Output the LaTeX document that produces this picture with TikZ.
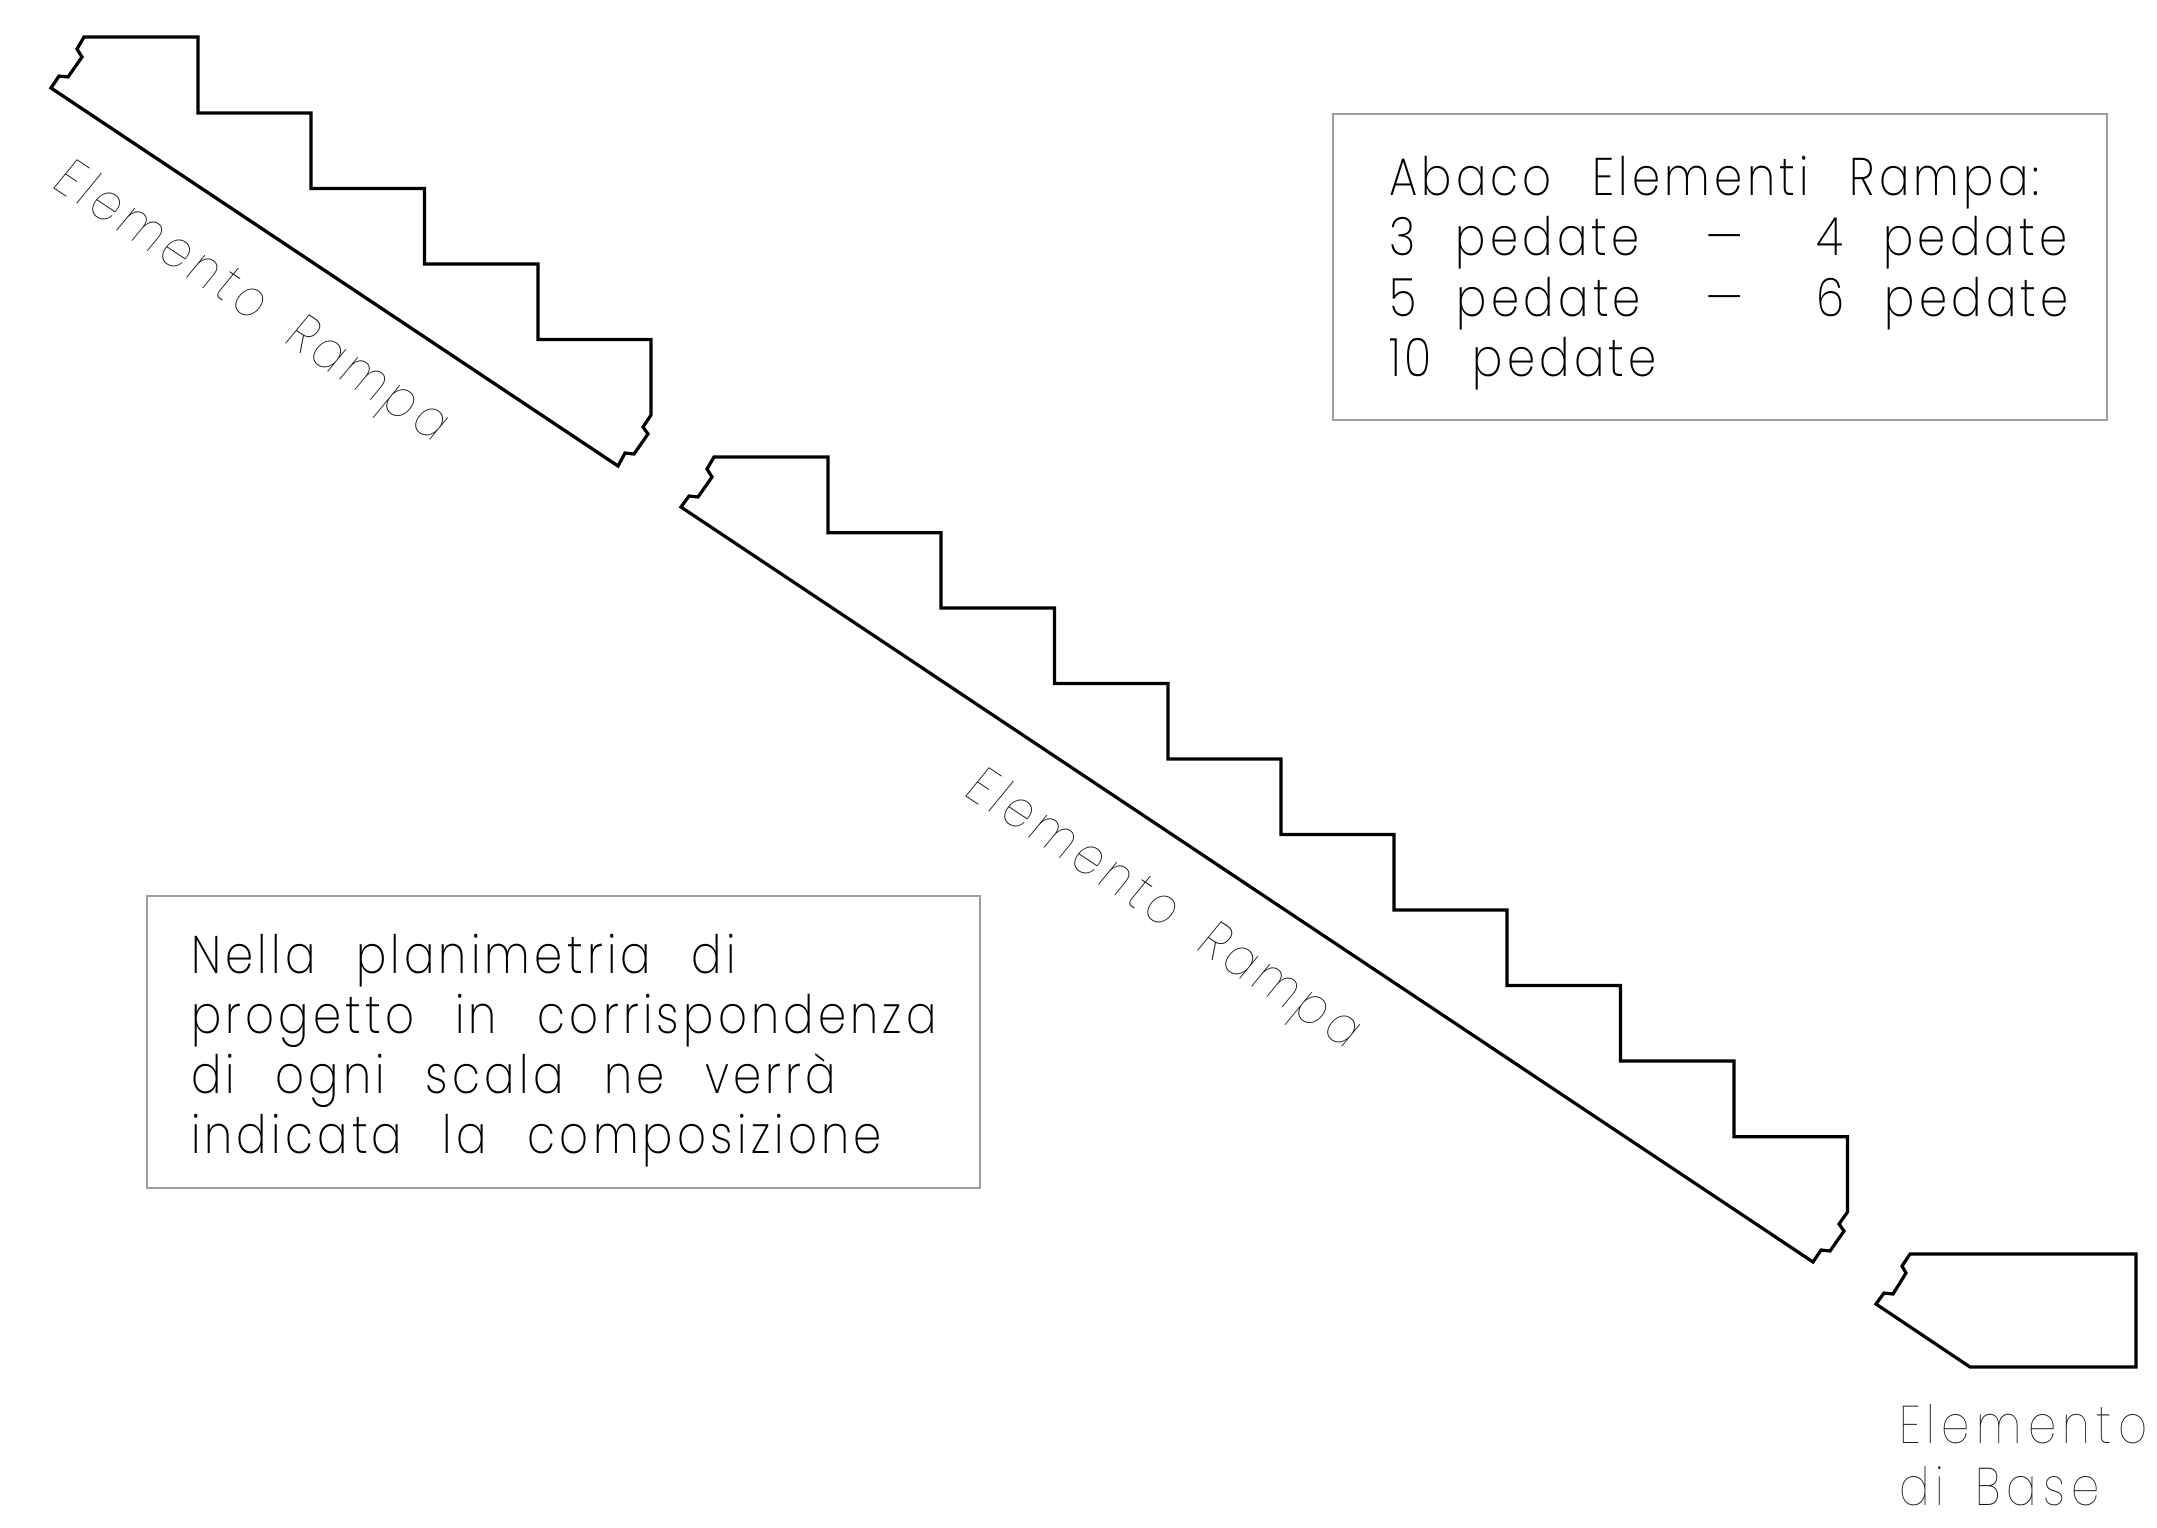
\documentclass[tikz,border=0pt]{standalone}
\usepackage{fontspec}
\setmainfont{Poppins ExtraLight}[LetterSpace=8,FakeStretch=0.85,WordSpace=2.4]
\newfontfamily\lbl{Poppins Thin}[LetterSpace=12,FakeStretch=0.85,WordSpace=1.6]
\newfontfamily\lblr{Poppins Thin}[LetterSpace=10.5,FakeStretch=0.85,WordSpace=1.9,FakeSlant=0.1]
\tikzset{x=1pt,y=-1pt,
 outl/.style={draw=black,line width=3.2pt,line join=miter},
 boxr/.style={draw=black!38,line width=1.1pt},
 txt/.style={anchor=base west,inner sep=0pt,outer sep=0pt,font=\fontsize{53}{60}\selectfont,text=black},
 gtxt/.style={anchor=base west,inner sep=0pt,outer sep=0pt,font=\lbl\fontsize{53}{60}\selectfont,text=black!90},
 rtxt/.style={anchor=base west,inner sep=0pt,outer sep=0pt,rotate=-33.7,font=\lblr\fontsize{53}{60}\selectfont,text=black!90}}
\begin{document}
\begin{tikzpicture}
\useasboundingbox (0,0) rectangle (2157,1527);
\draw[outl] (84,37) -- (198,37) -- (198,113) -- (311,113) -- (311,188.5) -- (424.5,188.5) -- (424.5,264) -- (538,264) -- (538,339.5) -- (651,339.5) -- (651,415) -- (643,427) -- (648,434) -- (634,454) -- (625,453) -- (618,466) -- (51,88) -- (59,76) -- (68,77) -- (82,57) -- (77,49) -- cycle;
\draw[outl] (714,457) -- (828,457) -- (828,532.7) -- (941,532.7) -- (941,608) -- (1054.5,608) -- (1054.5,683.5) -- (1168,683.5) -- (1168,759) -- (1281,759) -- (1281,834.5) -- (1394,834.5) -- (1394,910) -- (1507,910) -- (1507,985.5) -- (1620.5,985.5) -- (1620.5,1061) -- (1734,1061) -- (1734,1136.7) -- (1847.5,1136.7) -- (1847.5,1212) -- (1839,1224) -- (1844,1231) -- (1830,1251) -- (1821,1250) -- (1813,1262) -- (681,507) -- (689,496) -- (698,497) -- (712,477) -- (707,469) -- cycle;
\draw[outl] (1910,1254) -- (2136,1254) -- (2136,1367) -- (1970,1367) -- (1876,1304) -- (1884,1293) -- (1893,1294) -- (1906,1273) -- (1902,1266) -- cycle;
\draw[boxr] (1333,114) rectangle (2107,420);
\draw[boxr] (147,896) rectangle (980,1188);
\node[txt] (a1) at (1389,195) {Abaco Elementi Rampa:};
\node[txt] (a2) at (1389,255) {3 pedate};
\node[txt] (a3) at (1706,255) {—};
\node[txt] (a4) at (1816,255) {4 pedate};
\node[txt] (b2) at (1389,316) {5 pedate};
\node[txt] (b3) at (1706,316) {—};
\node[txt] (b4) at (1816,316) {6 pedate};
\node[txt] (c1) at (1389,376) {10 pedate};
\node[txt] (n1) at (191,973) {Nella planimetria di};
\node[txt] (n2) at (191,1033) {progetto in corrispondenza};
\node[txt] (n3) at (191,1093) {di ogni scala ne verrà};
\node[txt] (n4) at (191,1153) {indicata la composizione};
\node[rtxt] (r1) at (50.7,186.7) {Elemento Rampa};
\node[rtxt] (r2) at (962.7,794) {Elemento Rampa};
\node[gtxt] (e1) at (1899,1443) {Elemento};
\node[gtxt] (e2) at (1899,1505) {di Base};
\end{tikzpicture}
\end{document}
